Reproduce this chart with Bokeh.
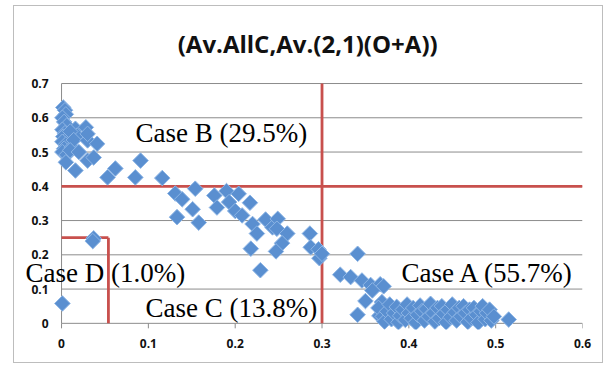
from bokeh.plotting import figure
from bokeh.models import Range1d, Label, FixedTicker, CustomJSTickFormatter
from bokeh.core.properties import value
from bokeh.embed import file_html
from bokeh.resources import INLINE
import math

# ---- data ----
x_vals = [
    0.002, 0.004, 0.005, 0.001, 0.003, 0.006, 0.001, 0.004, 0.002, 0.007,
    0.001, 0.005, 0.003, 0.001, 0.006, 0.005, 0.012, 0.016, 0.018, 0.010,
    0.014, 0.016, 0.028, 0.030, 0.030, 0.041, 0.030, 0.037, 0.010, 0.020,
    0.037, 0.036, 0.001,
    0.053, 0.062, 0.085, 0.091, 0.116,
    0.131, 0.139, 0.133, 0.154, 0.151, 0.158, 0.176, 0.179, 0.190, 0.193,
    0.200, 0.204, 0.208, 0.217, 0.220, 0.225, 0.218, 0.229, 0.235, 0.243,
    0.249, 0.248, 0.260, 0.254, 0.247, 0.286, 0.287, 0.296, 0.297, 0.300,
    0.341, 0.321, 0.333, 0.346, 0.356, 0.367, 0.371, 0.358, 0.350, 0.341,
    0.366, 0.369, 0.373,
    0.365, 0.370, 0.372, 0.375, 0.378, 0.380, 0.383, 0.386, 0.388, 0.390,
    0.393, 0.396, 0.398, 0.400, 0.403, 0.405, 0.408, 0.410, 0.413, 0.415,
    0.418, 0.420, 0.423, 0.425, 0.428, 0.430, 0.433, 0.435, 0.438, 0.440,
    0.443, 0.445, 0.448, 0.450, 0.453, 0.455, 0.458, 0.460, 0.463, 0.465,
    0.468, 0.470, 0.472, 0.475, 0.478, 0.480, 0.483, 0.485, 0.488, 0.490,
    0.493, 0.495, 0.498, 0.515,
]
y_vals = [
    0.630, 0.622, 0.610, 0.600, 0.588, 0.577, 0.565, 0.555, 0.545, 0.540,
    0.530, 0.522, 0.510, 0.500, 0.492, 0.470, 0.514, 0.568, 0.548, 0.560,
    0.535, 0.446, 0.572, 0.534, 0.553, 0.524, 0.475, 0.484, 0.505, 0.500,
    0.248, 0.240, 0.058,
    0.426, 0.452, 0.426, 0.475, 0.424,
    0.379, 0.362, 0.310, 0.393, 0.333, 0.294, 0.373, 0.338, 0.386, 0.354,
    0.328, 0.378, 0.315, 0.352, 0.290, 0.262, 0.218, 0.155, 0.303, 0.280,
    0.305, 0.276, 0.262, 0.234, 0.210, 0.262, 0.222, 0.216, 0.190, 0.203,
    0.203, 0.142, 0.135, 0.125, 0.112, 0.114, 0.108, 0.096, 0.065, 0.025,
    0.022, 0.062, 0.009,
    0.045, 0.020, 0.005, 0.035, 0.055, 0.012, 0.030, 0.048, 0.003, 0.022,
    0.040, 0.010, 0.055, 0.030, 0.015, 0.045, 0.002, 0.025, 0.052, 0.035,
    0.008, 0.042, 0.020, 0.057, 0.030, 0.005, 0.045, 0.015, 0.050, 0.028,
    0.003, 0.040, 0.018, 0.055, 0.032, 0.008, 0.045, 0.020, 0.050, 0.030,
    0.004, 0.040, 0.015, 0.045, 0.025, 0.002, 0.035, 0.050, 0.012, 0.030,
    0.040, 0.008, 0.020, 0.011,
]

x_ticks = [0, 0.1, 0.2, 0.3, 0.4, 0.5, 0.6]
y_ticks = [0, 0.1, 0.2, 0.3, 0.4, 0.5, 0.6, 0.7]
y_tick_labels = ["0", "0.1", "0.2", "0.3", "0.4", "0.5", "0.6", "0.7"]

threshold_x = 0.3
threshold_y = 0.4
case_d_x = 0.054
case_d_y = 0.25

title_text = "(Av.AllC,Av.(2,1)(O+A))"
case_labels = ["Case B (29.5%)", "Case A (55.7%)", "Case D (1.0%)", "Case C (13.8%)"]
case_label_x = [0.0853, 0.3915, -0.0415, 0.0968]
case_label_y = [0.555, 0.148, 0.148, 0.046]

# ---- figure ----
p = figure(
    frame_width=568, frame_height=323,
    x_range=Range1d(-0.05417, 0.6), y_range=Range1d(-0.018, 0.9248),
    min_border_left=0, min_border_right=20, min_border_top=0, min_border_bottom=33,
    y_axis_location=None,
    output_backend="svg", toolbar_location=None,
)
p.styles = {"border": "1px solid #BDBDBD", "margin-left": "13px", "margin-top": "5px"}
p.outline_line_color = None
p.xgrid.visible = False
p.ygrid.visible = False

fmt = CustomJSTickFormatter(code="return tick === 0 ? '0' : tick.toFixed(1);")
ax = p.xaxis[0]
ax.ticker = FixedTicker(ticks=x_ticks)
ax.formatter = fmt
ax.axis_line_color = None
ax.major_tick_line_color = None
ax.minor_tick_line_color = None
ax.major_label_text_font = "Open Sans"
ax.major_label_text_font_style = "bold"
ax.major_label_text_font_size = "12px"
ax.major_label_text_color = "#111111"
ax.major_label_standoff = 3

grid_color = "#8C8C8C"
gy = [t for t in y_ticks if t > 0]
p.segment(x0=[0] * len(gy), y0=gy, x1=[x_ticks[-1]] * len(gy), y1=gy,
          line_color=grid_color, line_width=1)
# axis lines
p.segment(x0=[0, 0], y0=[0, 0], x1=[0, x_ticks[-1]], y1=[y_ticks[-1], 0],
          line_color=grid_color, line_width=1)
# x tick marks
p.segment(x0=x_ticks, y0=[0] * len(x_ticks), x1=x_ticks, y1=[-0.0146] * len(x_ticks),
          line_color=grid_color, line_width=1)
# y tick labels
p.text(x=[0] * len(y_ticks), y=y_ticks, text=y_tick_labels, x_offset=-13,
       text_align="right", text_baseline="middle", text_font=value("Open Sans"),
       text_font_style="bold", text_font_size="12px", text_color="#111111")

red = "#C8504D"
p.segment(x0=[threshold_x, 0, 0, case_d_x],
          y0=[0, threshold_y, case_d_y, 0],
          x1=[threshold_x, x_ticks[-1], case_d_x, case_d_x],
          y1=[y_ticks[-1], threshold_y, case_d_y, case_d_y],
          line_color=red, line_width=2.8)

p.scatter(x_vals, y_vals, marker="square", size=11, angle=math.pi / 4,
          fill_color="#5A8FD0", line_color="#8DB5E5", line_width=1)

p.add_layout(Label(x=0.2835, y=0.816, text=title_text, text_align="center",
                   text_baseline="middle", text_font="Open Sans",
                   text_font_style="bold", text_font_size="24px", text_color="#111111"))
for t, lx, ly in zip(case_labels, case_label_x, case_label_y):
    p.add_layout(Label(x=lx, y=ly, text=t, text_align="left", text_baseline="alphabetic",
                       text_font="Liberation Serif", text_font_size="27px",
                       text_color="#000000"))

open("out.html", "w").write(file_html(p, INLINE))
